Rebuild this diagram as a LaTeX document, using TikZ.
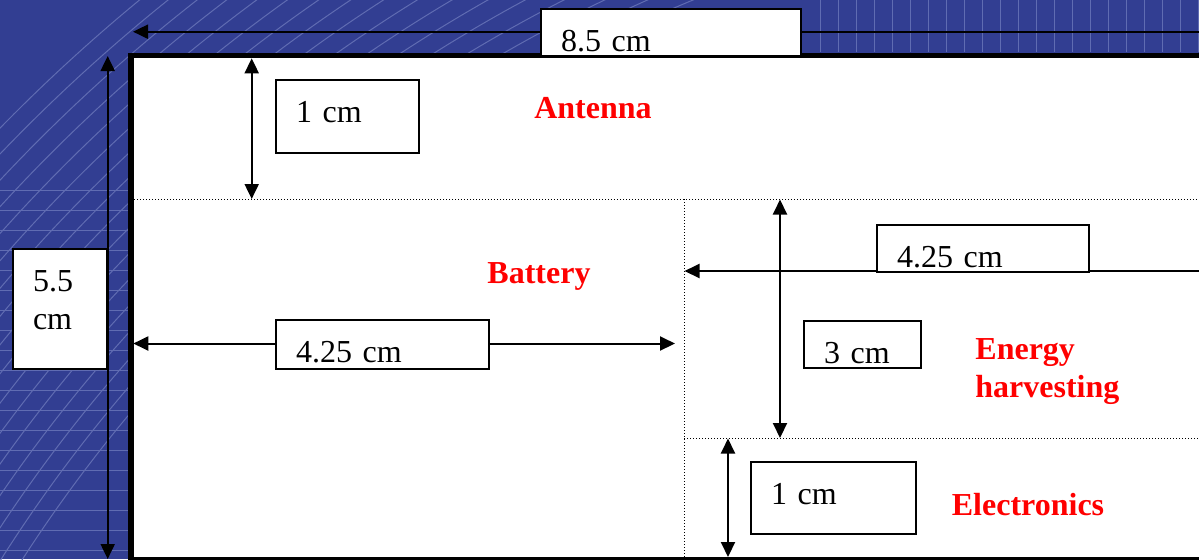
\documentclass[tikz,border=0pt]{standalone}
\usepackage{fontspec}
\setmainfont{Liberation Serif}
\usepackage{xcolor}
\usepackage{tikz}
\usetikzlibrary{arrows.meta,positioning,calc}
\definecolor{slideblue}{RGB}{50,62,146}
\definecolor{gridblue}{RGB}{96,108,178}
\definecolor{partred}{RGB}{255,0,0}
\tikzset{
  >={Triangle[length=7.5pt,width=7pt]},
  dimbox/.style={draw=black, line width=1pt, fill=white, anchor=north west, inner xsep=10pt, inner ysep=0pt, align=left, text height=21pt},
  part/.style={text=partred, font=\fontsize{16}{19}\selectfont\bfseries, inner sep=0pt},
  dim/.style={<->, line width=1pt},
  diml/.style={->, line width=1pt},
  divider/.style={densely dotted, line width=0.5pt},
}

\begin{document}
\begin{tikzpicture}[x=0.5pt,y=-0.5pt,font=\fontsize{16}{19}\selectfont]
  \clip (0,0) rectangle (1199,559);
  \fill[slideblue] (0,0) rectangle (1199,559);
  \foreach \r in {1460,1478,...,1760} {
    \draw[gridblue, line width=0.5pt] (1250,1350) circle (\r);
  }
  \foreach \y in {190,210,...,550} {
    \draw[gridblue, line width=0.5pt] (0,\y) -- (128,\y);
  }
  \foreach \x in {820,838,...,1199} {
    \draw[gridblue, line width=0.5pt] (\x,0) -- (\x,52);
  }
  % board
  \draw[line width=2.8pt, fill=white] (131,55.5) rectangle (1215,560);
  \draw[divider] (134,199) -- (1215,199);
  \draw[divider] (684,199) -- (684,557);
  \draw[divider] (684,438) -- (1215,438);
  % dimension lines
  \coordinate (topR) at (1215,31.7);
  \coordinate (topL) at (133,31.7);
  \coordinate (sideT) at (107.7,56);
  \coordinate (sideB) at (107.7,559);
  \coordinate (antT) at (251.7,58.3);
  \coordinate (antB) at (251.7,199);
  \coordinate (batL) at (133.3,343.5);
  \coordinate (batR) at (675,343.5);
  \coordinate (ehR) at (1215,271);
  \coordinate (ehL) at (684.5,271);
  \coordinate (ehT) at (780,199.5);
  \coordinate (ehB) at (780,438);
  \coordinate (elT) at (728,438.5);
  \coordinate (elB) at (728,557);
  \draw[diml] (topR) -- (topL);
  \draw[dim] (sideT) -- (sideB);
  \draw[dim] (antT) -- (antB);
  \draw[dim] (batL) -- (batR);
  \draw[diml] (ehR) -- (ehL);
  \draw[dim] (ehT) -- (ehB);
  \draw[dim] (elT) -- (elB);
  % value boxes
  \node[dimbox, text width=110pt, text depth=2.5pt] (lenTotal) at (540,8) {8.5 cm};
  \node[dimbox, text width=27pt, text depth=39pt] (widTotal) at (12,248) {5.5\\cm};
  \node[dimbox, text width=51.5pt, text depth=15.5pt] (antH) at (275,79) {1 cm};
  \node[dimbox, text width=86.5pt, text depth=3.5pt] (batW) at (275,319) {4.25 cm};
  \node[dimbox, text width=86pt, text depth=2.5pt] (ehW) at (876,224) {4.25 cm};
  \node[dimbox, text width=38.5pt, text depth=2.5pt] (ehH) at (803,320) {3 cm};
  \node[dimbox, text width=62.5pt, text depth=15pt] (elH) at (750,461) {1 cm};
  % part names
  \node[part] (antenna) at (593,108) {Antenna};
  \node[part] (battery) at (539,276) {Battery};
  \node[part, align=left, anchor=west] (harvest) at (975,372) {Energy\\harvesting};
  \node[part] (electronics) at (1028,505) {Electronics};
\end{tikzpicture}
\end{document}
